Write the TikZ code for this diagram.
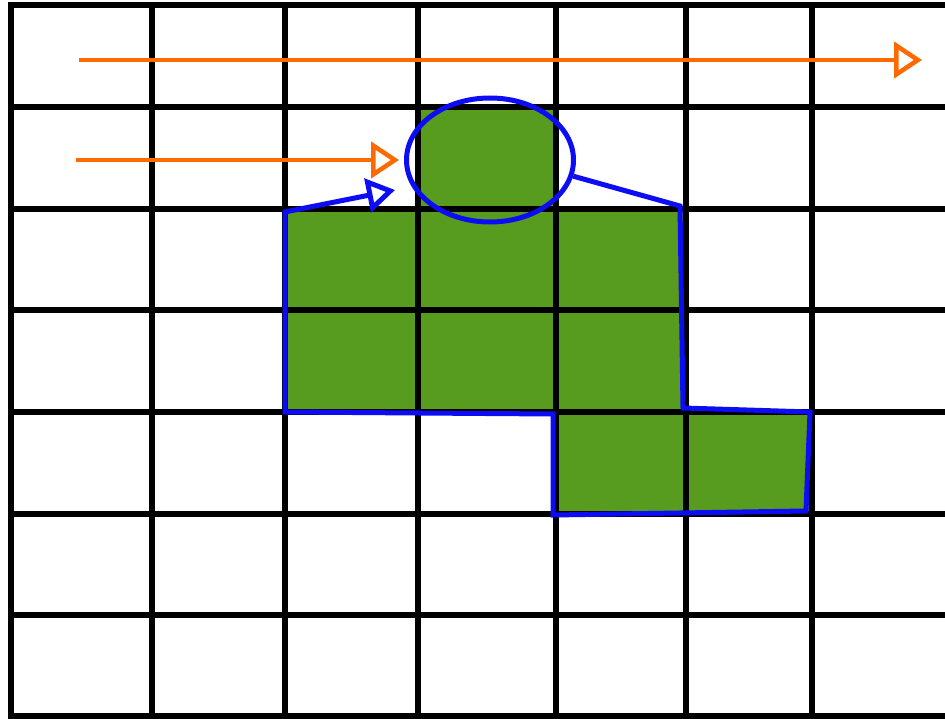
\documentclass[tikz,border=0pt]{standalone}
\usetikzlibrary{arrows.meta,shapes.geometric}

\definecolor{cellgreen}{RGB}{87,155,31}
\definecolor{rayorange}{RGB}{255,106,0}
\definecolor{traceblue}{RGB}{12,12,245}

\begin{document}
\begin{tikzpicture}[
        x=1pt, y=-1pt,
        gridline/.style={draw=black, line width=6pt, line cap=rect},
        cell/.style={fill=cellgreen},
        ray/.style={draw=rayorange, line width=4.5pt, -{Triangle[open, length=28pt, width=36pt]}},
        trace/.style={draw=traceblue, line width=5pt, line join=miter, -{Triangle[open, length=28pt, width=34pt]}},
        probe/.style={ellipse, draw=traceblue, line width=5pt, minimum width=167pt, minimum height=124pt, inner sep=0pt}
        ]

        \useasboundingbox (0,0) rectangle (945,719);
        \clip (0,0) rectangle (945,719);

        % Filled cells
        \fill[cell] (418,107) rectangle (556,209);
        \fill[cell] (285,209) rectangle (686,412);
        \fill[cell] (556,412) rectangle (812,514);

        % Horizontal grid lines
        \draw[gridline] (11,5) -- (960,5);
        \draw[gridline] (11,107) -- (960,107);
        \draw[gridline] (11,209) -- (960,209);
        \draw[gridline] (11,310) -- (960,310);
        \draw[gridline] (11,412) -- (960,412);
        \draw[gridline] (11,514) -- (960,514);
        \draw[gridline] (11,615) -- (960,615);
        \draw[gridline] (11,716) -- (960,716);

        % Vertical grid lines
        \draw[gridline] (11,5) -- (11,716);
        \draw[gridline] (152,5) -- (152,716);
        \draw[gridline] (285,5) -- (285,716);
        \draw[gridline] (418,5) -- (418,716);
        \draw[gridline] (556,5) -- (556,716);
        \draw[gridline] (686,5) -- (686,716);
        \draw[gridline] (812,5) -- (812,716);

        % Probe ellipse
        \node[probe] (probe) at (490,160) {};

        % Ray end points
        \coordinate (ray1 start) at (79,60);
        \coordinate (ray1 end) at (922,60);
        \coordinate (ray2 start) at (76,160);
        \coordinate (trace end) at (395,190);

        % Orange rays
        \draw[ray] (ray1 start) -- (ray1 end);
        \draw[ray, shorten >=5pt] (ray2 start) -- (probe.west);

        % Blue boundary trace
        \draw[trace] (probe.-11) -- (680,206) -- (683,408) -- (810,412) -- (806,511)
            -- (553,515) -- (553,414) -- (285,412) -- (285,212) -- (trace end);

\end{tikzpicture}
\end{document}
